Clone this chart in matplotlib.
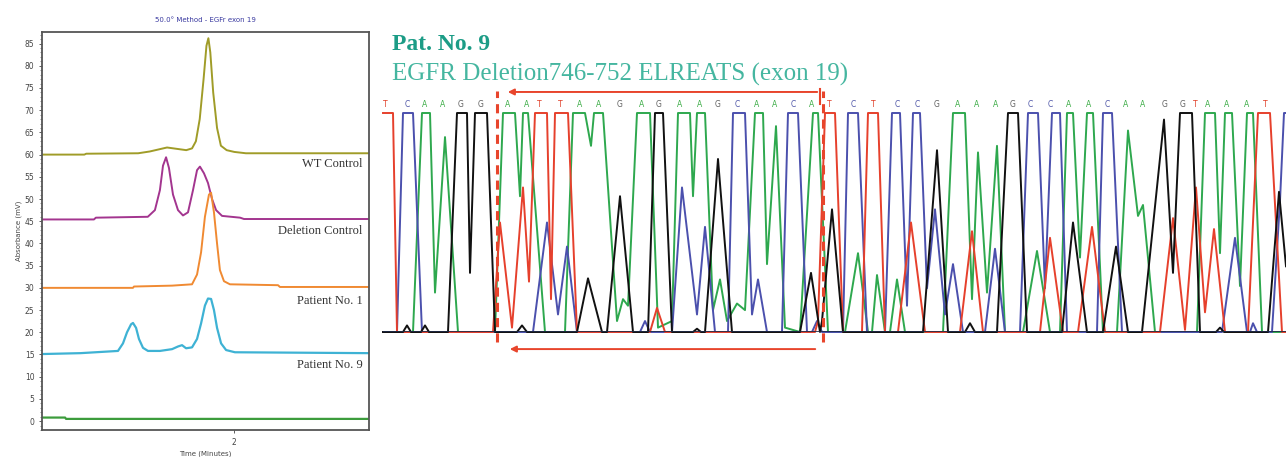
import matplotlib
matplotlib.use("Agg")
import matplotlib.pyplot as plt
from matplotlib.ticker import MultipleLocator

# ---- left panel: DHPLC chromatograms (time in minutes, absorbance in mV) ----
wt_t = [1.00, 1.22, 1.23, 1.50, 1.56, 1.61, 1.65, 1.70, 1.75, 1.78, 1.80, 1.82, 1.84,
        1.855, 1.865, 1.875, 1.89, 1.91, 1.93, 1.96, 2.00, 2.06, 2.70]
wt_v = [60.0, 60.0, 60.2, 60.3, 60.7, 61.2, 61.6, 61.3, 61.0, 61.4, 63.0, 68.0, 77.0,
        84.5, 86.2, 83.0, 74.0, 66.0, 62.0, 61.0, 60.6, 60.3, 60.3]

del_t = [1.00, 1.27, 1.28, 1.55, 1.587, 1.613, 1.629, 1.645, 1.660, 1.681, 1.707, 1.733,
         1.759, 1.785, 1.806, 1.821, 1.842, 1.863, 1.884, 1.905, 1.936, 2.03, 2.05, 2.70]
del_v = [45.4, 45.4, 45.8, 46.0, 47.5, 52.0, 57.5, 59.4, 57.0, 51.0, 47.5, 46.3,
         47.0, 52.0, 56.5, 57.3, 55.8, 53.6, 50.0, 47.5, 46.2, 45.8, 45.5, 45.5]

p1_t = [1.00, 1.473, 1.478, 1.676, 1.780, 1.806, 1.827, 1.847, 1.868, 1.879, 1.894,
        1.910, 1.925, 1.946, 1.977, 2.227, 2.237, 2.70]
p1_v = [30.0, 30.0, 30.3, 30.5, 30.8, 33.0, 38.0, 46.0, 51.0, 51.4, 47.0,
        40.0, 34.0, 31.5, 30.8, 30.6, 30.2, 30.2]

p9_t = [1.00, 1.20, 1.395, 1.421, 1.442, 1.463, 1.473, 1.489, 1.504, 1.525, 1.551, 1.613,
        1.676, 1.707, 1.728, 1.749, 1.780, 1.806, 1.827, 1.847, 1.863, 1.879, 1.894,
        1.910, 1.931, 1.957, 2.003, 2.70]
p9_v = [15.1, 15.3, 15.8, 17.5, 20.0, 21.8, 22.1, 21.0, 18.5, 16.5, 15.8, 15.8,
        16.2, 16.8, 17.1, 16.4, 16.6, 18.5, 22.0, 26.0, 27.6, 27.5, 25.0,
        21.0, 17.5, 16.0, 15.5, 15.3]

blank_t = [1.00, 1.12, 1.125, 2.70]
blank_v = [0.8, 0.8, 0.5, 0.5]

chrom_labels = ["WT Control", "Deletion Control", "Patient No. 1", "Patient No. 9"]
chrom_label_y = [57.9, 42.8, 27.0, 12.6]

# ---- right panel: sequencing trace (scan position, signal 0-100, clipped) ----
t_x = [383, 393, 397, 493, 500, 512, 523, 529, 535, 547, 551, 555, 568, 577, 650, 657, 665,
       815, 818, 825, 835, 843, 862, 868, 878, 885, 898, 911, 925, 960, 972, 983, 1040,
       1050, 1063, 1078, 1092, 1105, 1160, 1173, 1185, 1196, 1205, 1214, 1225, 1248,
       1258, 1270, 1282, 1286]
t_y = [100, 100, 0, 0, 50, 2, 66, 23, 100, 100, 15, 100, 100, 0, 0, 11, 0,
       0, 5, 100, 100, 0, 0, 100, 100, 0, 0, 50, 0, 0, 46, 0, 0,
       43, 0, 0, 48, 0, 0, 52, 1, 66, 9, 47, 0, 0,
       100, 100, 0, 0]

c_x = [383, 397, 403, 413, 422, 533, 547, 558, 567, 577, 640, 645, 650, 672, 682, 697, 705,
       715, 728, 733, 745, 752, 758, 767, 782, 788, 798, 807, 812, 817, 822, 843, 848,
       858, 867, 885, 892, 900, 907, 913, 920, 927, 935, 945, 953, 963, 985, 995, 1005,
       1020, 1028, 1038, 1045, 1052, 1060, 1067, 1097, 1103, 1112, 1122, 1222, 1235,
       1247, 1250, 1253, 1257, 1272, 1280, 1284, 1286]
c_y = [0, 0, 100, 100, 0, 0, 50, 8, 39, 0, 0, 5, 0, 0, 66, 8, 48,
       0, 0, 100, 100, 8, 24, 0, 0, 100, 100, 0, 0, 5, 0, 0, 100,
       100, 0, 0, 100, 100, 12, 100, 100, 20, 56, 8, 31, 0, 0, 38, 0,
       0, 100, 100, 20, 100, 100, 0, 0, 100, 100, 0, 0, 43,
       0, 0, 4, 0, 0, 60, 100, 100]

a_x = [383, 413, 422, 430, 435, 445, 458, 495, 503, 515, 520, 523, 528, 545, 565, 573,
       585, 591, 594, 603, 617, 623, 628, 637, 650, 658, 672, 678, 690, 693, 697, 705,
       713, 720, 727, 737, 745, 755, 763, 767, 776, 785, 800, 813, 818, 828, 845, 858,
       868, 872, 877, 885, 890, 897, 905, 943, 953, 965, 972, 978, 987, 997, 1005, 1023,
       1037, 1050, 1060, 1067, 1073, 1080, 1087, 1093, 1103, 1117, 1128, 1138, 1143,
       1155, 1197, 1205, 1215, 1220, 1225, 1232, 1240, 1247, 1253, 1262, 1286]
a_y = [0, 0, 100, 100, 18, 89, 0, 0, 100, 100, 62, 100, 100, 0, 0, 100,
       100, 85, 100, 100, 5, 15, 12, 100, 100, 2, 5, 100, 100, 62, 100, 100,
       10, 24, 5, 13, 10, 100, 100, 31, 94, 2, 0, 100, 100, 0, 0, 36,
       0, 0, 26, 0, 0, 24, 0, 0, 100, 100, 15, 82, 18, 85, 0, 0,
       37, 0, 0, 100, 100, 34, 100, 100, 0, 0, 92, 53, 58,
       0, 0, 100, 100, 36, 100, 100, 21, 100, 100, 0, 0]

g_x = [383, 403, 407, 411, 421, 425, 429, 448, 457, 467, 470, 475, 487, 495, 517, 522,
       527, 577, 588, 602, 607, 620, 633, 648, 655, 663, 672, 693, 697, 701, 705, 718,
       732, 800, 811, 820, 822, 832, 843, 923, 937, 948, 965, 970, 975, 997, 1008, 1018,
       1027, 1062, 1073, 1087, 1103, 1116, 1128, 1142, 1164, 1173, 1180, 1192, 1200,
       1216, 1220, 1224, 1268, 1279, 1286]
g_y = [0, 0, 3, 0, 0, 3, 0, 0, 100, 100, 27, 100, 100, 0, 0, 3,
       0, 0, 24.5, 0, 0, 62, 0, 0, 100, 100, 0, 0, 1.5, 0, 0, 79,
       0, 0, 27, 0, 5, 56, 0, 0, 83, 0, 0, 4, 0, 0, 100, 100,
       0, 0, 50, 0, 0, 39, 0, 0, 97, 27, 100, 100, 0,
       0, 2, 0, 0, 64, 30]

base_calls = list("TCAAGGAATTAAGAGAAGCAACATCTCCGAAAGCCAACAAGGTAAAT")
base_pos = [385, 407, 425, 443, 461, 481, 508, 527, 539, 560, 580, 599, 620, 642, 659,
            680, 700, 718, 737, 757, 775, 793, 812, 829, 853, 873, 897, 917, 937, 958,
            977, 996, 1013, 1030, 1050, 1069, 1089, 1107, 1126, 1143, 1165, 1183, 1195,
            1208, 1227, 1247, 1265]

deletion_start, deletion_end = 497, 823

trace_colors = {"A": "#2ea84e", "C": "#4b50ad", "G": "#111111", "T": "#e6402c"}
letter_colors = {"A": "#3fae49", "C": "#5057a8", "G": "#606060", "T": "#e0402a"}
marker_red = "#e8452c"

fig = plt.figure(figsize=(12.86, 4.57), dpi=100)

# left chromatogram panel
ax = fig.add_axes([42 / 1286, 27 / 457, 327 / 1286, 398 / 457])
ax.plot(wt_t, wt_v, color="#a09c28", lw=1.4)
ax.plot(del_t, del_v, color="#a3358f", lw=1.4)
ax.plot(p1_t, p1_v, color="#f08a32", lw=1.4)
ax.plot(p9_t, p9_v, color="#3eb2d4", lw=1.6)
ax.plot(blank_t, blank_v, color="#3c9c3c", lw=1.6)
ax.set_xlim(1.0, 2.7)
ax.set_ylim(-2.0, 87.6)
ax.yaxis.set_major_locator(MultipleLocator(5))
ax.yaxis.set_minor_locator(MultipleLocator(1))
ax.set_xticks([2])
ax.tick_params(labelsize=5.5, colors="#444444", length=2.5, width=0.6, pad=3)
ax.tick_params(which="minor", length=1.2, width=0.5, colors="#666666")
for s in ax.spines.values():
    s.set_color("#555555")
    s.set_linewidth(1.3)
ax.set_ylabel("Absorbance (mV)", fontsize=5, color="#444444", labelpad=2)
ax.set_xlabel("Time (Minutes)", fontsize=5, color="#444444", labelpad=3)
ax.set_title("50.0° Method - EGFr exon 19", fontsize=5, color="#3a3aa0", pad=7)
for lab, y in zip(chrom_labels, chrom_label_y):
    ax.text(2.665, y, lab, ha="right", va="center", fontsize=9,
            family="Liberation Serif", color="#333333")

# right sequencing panel
fig.text(392 / 1286, 1 - 44 / 457, "Pat. No. 9", fontsize=17, fontweight="bold",
         family="Liberation Serif", color="#1c9c86", va="center")
fig.text(392 / 1286, 1 - 74 / 457, "EGFR Deletion746-752 ELREATS (exon 19)", fontsize=18,
         family="Liberation Serif", color="#45b6a0", va="center")

tx = fig.add_axes([383 / 1286, 125 / 457, 903 / 1286, 219 / 457])
tx.set_xlim(383, 1286)
tx.set_ylim(0, 100)
tx.axis("off")
for base, xs, ys in [("A", a_x, a_y), ("C", c_x, c_y), ("T", t_x, t_y), ("G", g_x, g_y)]:
    tx.plot(xs, ys, color=trace_colors[base], lw=1.4, clip_on=False,
            solid_joinstyle="round")
tx.axhline(0, color="#1e2a48", lw=1.2)

for b, x in zip(base_calls, base_pos):
    tx.text(x, 104, b, ha="center", va="center", fontsize=5.5,
            color=letter_colors[b], clip_on=False)

for xd in (deletion_start, deletion_end):
    tx.plot([xd, xd], [-4.6, 110], color=marker_red, lw=2.2, ls=(0, (3, 2)), clip_on=False)
tx.plot([deletion_end - 3, deletion_end - 3], [104, 111], color=marker_red, lw=1.5,
        clip_on=False)
tx.annotate("", xy=(deletion_start + 8, 109.6), xytext=(deletion_end - 3, 109.6),
            arrowprops=dict(arrowstyle="-|>", color=marker_red, lw=1.4, mutation_scale=9),
            annotation_clip=False)
tx.annotate("", xy=(deletion_start + 10, -7.8), xytext=(deletion_end - 5, -7.8),
            arrowprops=dict(arrowstyle="-|>", color=marker_red, lw=1.4, mutation_scale=9),
            annotation_clip=False)

fig.savefig("out.png", dpi=100)
